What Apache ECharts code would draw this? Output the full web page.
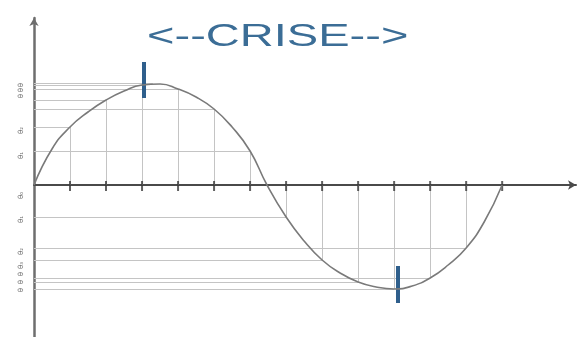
<!DOCTYPE html>
<html>
<head>
<meta charset="utf-8">
<script src="https://cdn.jsdelivr.net/npm/echarts@6/dist/echarts.min.js"></script>
<style>
  html, body { margin: 0; padding: 0; background: #fff; }
  #main { width: 578px; height: 337px; }
</style>
</head>
<body>
<div id="main"></div>
<script>
// courbe (x en graduations, y en unités du dessin)
var curveX = [0, 0.5, 1, 1.5, 2, 2.5, 3, 3.5, 4, 4.5, 5, 5.5, 6, 6.47, 7, 7.5, 8, 8.5, 9, 9.5, 10, 10.5, 11, 11.5, 12, 12.5, 13];
var curveY = [0, 36, 58, 73, 85, 94, 100, 101, 96, 88, 76, 58, 34, 0, -32, -56, -75, -88, -97, -102, -104, -101, -93, -80, -63, -37, 0];

// graduations et lignes de projection
var tickPos = [1, 2, 3, 4, 5, 6, 7, 8, 9, 10, 11, 12, 13];
var tickVal = [58, 85, 100, 96, 76, 34, -32, -75, -97, -104, -93, -63];
var extremePos = [3.3];
var extremeVal = [102];

// repères bleus
var cursorX = [3.05, 10.1];
var cursorLow = [87, -118];
var cursorHigh = [123, -81];

// étiquettes de l'axe vertical
var labelVal = [33, 58, 91, 97, 102, -7, -31, -63, -77, -87, -95, -103];
var labelText = ['θ₁', 'θ₂', 'θ', 'θ', 'θ', 'θ₀', 'θ₁', 'θ₂', 'θ₃', 'θ', 'θ', 'θ'];

var chart = echarts.init(document.getElementById('main'));

var curve = curveX.map(function (x, i) { return [x, curveY[i]]; });

var guides = [];
tickVal.forEach(function (v, i) {
    guides.push({ coords: [[tickPos[i], 0], [tickPos[i], v]] });
    guides.push({ coords: [[0, v], [tickPos[i], v]] });
});
extremeVal.forEach(function (v, i) {
    guides.push({ coords: [[0, v], [extremePos[i], v]] });
});

var cursors = cursorX.map(function (x, i) {
    return { coords: [[x, cursorLow[i]], [x, cursorHigh[i]]] };
});

var option = {
    backgroundColor: '#fff',
    animation: false,
    grid: { left: 34, right: 2, top: 18, bottom: 0 },
    graphic: [{
        type: 'text',
        x: 147,
        y: 21,
        scaleX: 1.47,
        style: {
            text: '<--CRISE-->',
            font: '32px "Liberation Sans"',
            fill: '#3b6d96',
            verticalAlign: 'top'
        }
    }],
    xAxis: {
        type: 'value',
        min: 0,
        max: 15.05,
        axisLine: {
            onZero: true,
            symbol: ['none', 'arrow'],
            symbolSize: [7, 8],
            lineStyle: { color: '#4a4a4a', width: 2 }
        },
        axisTick: { show: false },
        axisLabel: { show: false },
        splitLine: { show: false }
    },
    yAxis: {
        type: 'value',
        min: -152,
        max: 167,
        axisLine: {
            show: true,
            onZero: false,
            symbol: ['none', 'arrow'],
            symbolSize: [7, 8],
            lineStyle: { color: '#6e6e6e', width: 2.5 }
        },
        axisTick: { show: false },
        axisLabel: { show: false },
        splitLine: { show: false }
    },
    series: [
        {
            type: 'lines',
            coordinateSystem: 'cartesian2d',
            silent: true,
            lineStyle: { color: '#c4c4c4', width: 1, opacity: 1 },
            data: guides
        },
        {
            type: 'line',
            data: curve,
            smooth: 0.5,
            showSymbol: false,
            lineStyle: { color: '#7a7a7a', width: 1.6 }
        },
        {
            type: 'scatter',
            data: tickPos.map(function (x) { return [x, -1]; }),
            symbol: 'rect',
            symbolSize: [2, 10],
            itemStyle: { color: '#3a3a3a' }
        },
        {
            type: 'lines',
            coordinateSystem: 'cartesian2d',
            silent: true,
            lineStyle: { color: '#2f5f8c', width: 4, opacity: 1 },
            data: cursors
        },
        {
            type: 'scatter',
            data: labelVal.map(function (v) { return [0, v]; }),
            symbolSize: 0,
            label: {
                show: true,
                position: 'left',
                distance: 13,
                rotate: 90,
                fontSize: 7,
                fontFamily: 'DejaVu Sans',
                color: '#444',
                formatter: function (p) { return labelText[p.dataIndex]; }
            }
        }
    ]
};
chart.setOption(option);
</script>
</body>
</html>
